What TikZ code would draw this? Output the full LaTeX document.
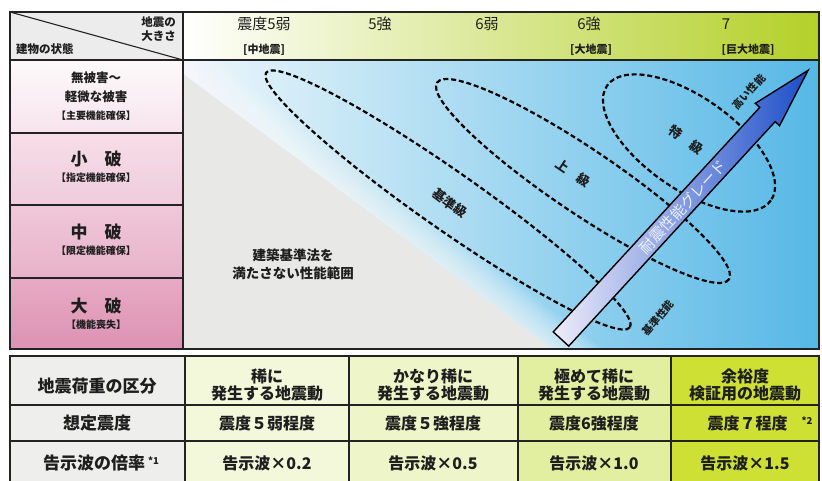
\documentclass[tikz,border=0pt]{standalone}
\usepackage{fontspec}
\setmainfont{Noto Sans CJK JP}
\usetikzlibrary{calc}
\definecolor{lineC}{RGB}{35,35,35}
\definecolor{txt}{RGB}{30,30,30}
\definecolor{hdrM}{RGB}{236,242,172}
\definecolor{hdrR}{RGB}{180,208,40}
\definecolor{blueL}{RGB}{238,247,251}
\definecolor{blueM}{RGB}{178,222,242}
\definecolor{blueR}{RGB}{86,184,230}
\definecolor{grayT}{RGB}{232,232,230}
\definecolor{cornerC}{RGB}{236,236,236}
\definecolor{pA}{RGB}{253,249,251}
\definecolor{pB}{RGB}{246,228,236}
\definecolor{pC}{RGB}{246,222,232}
\definecolor{pD}{RGB}{239,204,219}
\definecolor{pE}{RGB}{239,200,216}
\definecolor{pF}{RGB}{232,178,201}
\definecolor{pG}{RGB}{231,170,196}
\definecolor{pH}{RGB}{221,146,179}
\definecolor{cA}{RGB}{238,238,236}
\definecolor{cB}{RGB}{243,248,218}
\definecolor{cC}{RGB}{238,245,200}
\definecolor{cD}{RGB}{226,238,160}
\definecolor{cE}{RGB}{206,224,52}
\definecolor{arrL}{RGB}{238,236,250}
\definecolor{arrM}{RGB}{130,160,228}
\definecolor{arrR}{RGB}{28,78,200}
\definecolor{gradeT}{RGB}{232,240,255}
\begin{document}
\begin{tikzpicture}[x=1pt,y=-1pt,
  bd/.style={draw=lineC, line width=1.5pt},
  ell/.style={draw=black, line width=2.2pt, dash pattern=on 5pt off 2.8pt},
  hd/.style={font=\fontsize{15}{18}\selectfont, inner sep=0pt, text=txt},
  hdb/.style={font=\fontsize{11}{13}\selectfont\bfseries, inner sep=0pt, text=txt},
  corner/.style={font=\fontsize{11.5}{14}\selectfont\bfseries, inner sep=0pt, text=txt},
  rowbig/.style={font=\fontsize{17}{20}\selectfont\bfseries, inner sep=0pt, text=txt},
  rowmid/.style={font=\fontsize{12.5}{15}\selectfont\bfseries, inner sep=0pt, text=txt},
  rowsm/.style={font=\fontsize{10}{12}\selectfont\bfseries, inner sep=0pt, text=txt},
  lab/.style={font=\fontsize{13.5}{18}\selectfont\bfseries, inner sep=0pt, align=center, text=txt},
  elab/.style={font=\fontsize{13}{15}\selectfont\bfseries, inner sep=0pt, text=txt},
  small/.style={font=\fontsize{10.5}{12}\selectfont\bfseries, inner sep=0pt, text=txt},
  tbl/.style={font=\fontsize{16}{17}\selectfont\bfseries, inner sep=0pt, align=center, text=txt},
  tbh/.style={font=\fontsize{17}{19}\selectfont\bfseries, inner sep=0pt, align=center, text=txt}]
\useasboundingbox (0,0) rectangle (822,481);
\fill[white] (0,0) rectangle (822,481);

% ---------- top table backgrounds ----------
\fill[cornerC] (10,12) rectangle (183,60);
\shade[left color=white, middle color=hdrM, right color=hdrR] (183,12) rectangle (819,60);
\shade[top color=pA, bottom color=pB] (10,60) rectangle (183,133);
\shade[top color=pC, bottom color=pD] (10,133) rectangle (183,205);
\shade[top color=pE, bottom color=pF] (10,205) rectangle (183,278);
\shade[top color=pG, bottom color=pH] (10,278) rectangle (183,349);

% main area
\shade[left color=blueL, middle color=blueM, right color=blueR] (183,60) rectangle (819,349);
\begin{scope}
\clip (183,60) rectangle (819,349);
\fill[grayT] (120,27) -- (640,414) -- (120,414) -- cycle;
\coordinate (gA) at (103,14);
\coordinate (gB) at (633,409);
\foreach \d in {3,6,...,30} {
  \fill[white, opacity=0.09] (gA) -- (gB) -- ($(gB)+(\d*0.597,-\d*0.803)$) -- ($(gA)+(\d*0.597,-\d*0.803)$) -- cycle;
}
\end{scope}

% ---------- ellipses ----------
\draw[ell, rotate around={-35:(448,200)}] (448,200) ellipse [x radius=222, y radius=29];
\draw[ell, rotate around={-34:(583,181)}] (583,181) ellipse [x radius=176, y radius=32];
\draw[ell, rotate around={-35:(689,143)}] (689,143) ellipse [x radius=100, y radius=46];

% ---------- arrow ----------
\begin{scope}[shift={(561,339)}, rotate=47.4]
\draw[line width=1.4pt, draw=black, left color=arrL, middle color=arrM, right color=arrR]
  (0,-10.5) -- (305,-10.5) -- (305,-16.5) -- (365,0) -- (305,16.5) -- (305,10.5) -- (0,10.5) -- cycle;
\end{scope}
\node[font=\fontsize{15}{17}\selectfont, text=gradeT, inner sep=0pt, rotate=47.4] (grade) at (683,207) {耐震性能グレード};
\node[small, rotate=47.4] (high) at (749,92) {高い性能};
\node[small, rotate=49] (base) at (658,318) {基準性能};

% ellipse labels
\node[elab, rotate=-37] (kijun) at (450,203) {基準級};
\node[elab, rotate=-34] (jokyu) at (573,173) {上　級};
\node[elab, rotate=-36] (tokkyu) at (686,140) {特　級};
\node[lab] (lowperf) at (293,264) {建築基準法を\\満たさない性能範囲};

% ---------- header texts ----------
\node[corner, anchor=east] (hc1) at (176,22) {地震の};
\node[corner, anchor=east] (hc2) at (176,36) {大きさ};
\node[corner, anchor=west] (hc3) at (16,49) {建物の状態};
\node[hd] (s1) at (264,24) {震度5弱};
\node[hd] (s2) at (380,24) {5強};
\node[hd] (s3) at (487,24) {6弱};
\node[hd] (s4) at (589,24) {6強};
\node[hd] (s5) at (726,24) {7};
\node[hdb] (m1) at (264,50) {[中地震]};
\node[hdb] (m2) at (591,50) {[大地震]};
\node[hdb] (m3) at (748,50) {[巨大地震]};

% ---------- left column texts ----------
\node[rowmid] (r1a) at (96,78) {無被害～};
\node[rowmid] (r1b) at (96,97) {軽微な被害};
\node[rowsm] (r1c) at (96,116) {【主要機能確保】};
\node[rowbig] (r2a) at (96,159) {小　破};
\node[rowsm] (r2b) at (96,178) {【指定機能確保】};
\node[rowbig] (r3a) at (96,232) {中　破};
\node[rowsm] (r3b) at (96,251) {【限定機能確保】};
\node[rowbig] (r4a) at (96,306) {大　破};
\node[rowsm] (r4b) at (96,325) {【機能喪失】};

% ---------- top table lines ----------
\draw[bd] (10,12) rectangle (819,349);
\draw[bd] (10,60) -- (819,60);
\draw[bd] (183,12) -- (183,349);
\draw[draw=lineC, line width=1.1pt] (10,12) -- (183,60);
\draw[bd] (10,133) -- (183,133);
\draw[bd] (10,205) -- (183,205);
\draw[bd] (10,278) -- (183,278);

% ---------- bottom table ----------
\fill[cA] (10,356) rectangle (185,490);
\fill[cB] (185,356) rectangle (349,490);
\fill[cC] (349,356) rectangle (518,490);
\fill[cD] (518,356) rectangle (671,490);
\fill[cE] (671,356) rectangle (819,490);
\draw[bd] (10,490) -- (10,356) -- (819,356) -- (819,490);
\draw[bd] (10,405) -- (819,405);
\draw[bd] (10,441) -- (819,441);
\foreach \xx in {185,349,518,671} { \draw[bd] (\xx,356) -- (\xx,490); }

\node[tbh] (t11) at (97,386) {地震荷重の区分};
\node[tbl] (t12) at (267,385) {稀に\\発生する地震動};
\node[tbl] (t13) at (433,385) {かなり稀に\\発生する地震動};
\node[tbl] (t14) at (594,385) {極めて稀に\\発生する地震動};
\node[tbl] (t15) at (745,385) {余裕度\\検証用の地震動};
\node[tbh] (t21) at (97,423) {想定震度};
\node[tbl] (t22) at (267,423) {震度５弱程度};
\node[tbl] (t23) at (433,423) {震度５強程度};
\node[tbl] (t24) at (594,423) {震度6強程度};
\node[tbl] (t25) at (760,423) {震度７程度\hspace{14pt}\raisebox{5pt}{\fontsize{9.5}{9.5}\selectfont *2}};
\node[tbh] (t31) at (101,463) {告示波の倍率\,\raisebox{5pt}{\fontsize{9.5}{9.5}\selectfont *1}};
\node[tbl] (t32) at (267,463) {告示波×0.2};
\node[tbl] (t33) at (433,463) {告示波×0.5};
\node[tbl] (t34) at (594,463) {告示波×1.0};
\node[tbl] (t35) at (745,463) {告示波×1.5};
\end{tikzpicture}
\end{document}
